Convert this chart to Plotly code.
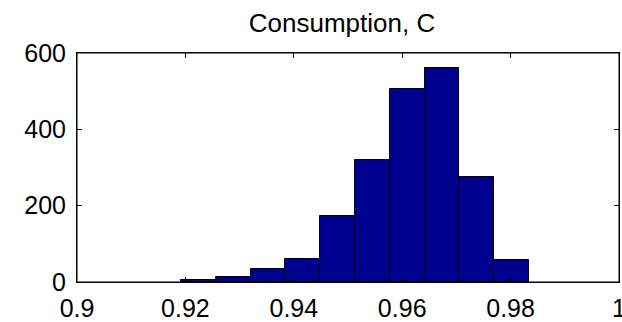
import plotly.graph_objects as go

bin_centers = [0.92241, 0.92883, 0.93525, 0.94167, 0.94809, 0.95451, 0.96093, 0.96735, 0.97377, 0.98019]
counts = [4, 13, 33, 61, 174, 320, 507, 560, 276, 57]
bin_width = 0.00642
x_ticks = [0.9, 0.92, 0.94, 0.96, 0.98, 1.0]
x_tick_labels = ["0.9", "0.92", "0.94", "0.96", "0.98", "1"]
y_ticks = [0, 200, 400, 600]
y_tick_labels = ["0", "200", "400", "600"]
title_text = "Consumption, C"

fig = go.Figure(go.Bar(
    x=bin_centers, y=counts, width=[bin_width] * len(counts),
    marker=dict(color="#00008F", line=dict(color="black", width=1)),
))

fam = "Liberation Sans, Arial, sans-serif"
font = dict(family=fam, size=25, color="black")
W, H = 622, 322
fig.update_layout(
    width=W, height=H,
    margin=dict(l=77, r=3, t=53, b=40),
    paper_bgcolor="white", plot_bgcolor="white",
    showlegend=False,
    title=dict(text=title_text, x=342 / W, xanchor="center",
               xref="container", yref="container",
               y=1 - 23 / H, yanchor="middle",
               font=dict(family=fam, size=26, color="black")),
    font=font,
    bargap=0,
    shapes=[dict(type="rect", xref="paper", yref="paper", x0=0, x1=1, y0=0, y1=1,
                 line=dict(color="black", width=1), fillcolor="rgba(0,0,0,0)",
                 layer="above")],
)
fig.update_xaxes(range=[0.9, 1.000001], tickvals=x_ticks, ticktext=x_tick_labels,
                 ticks="inside", ticklen=5, tickcolor="black", showline=True,
                 linecolor="black", linewidth=1, mirror="ticks", showgrid=False,
                 zeroline=False, tickfont=font, ticklabelstandoff=4, automargin=False,
                 ticklabeloverflow="allow")
fig.update_yaxes(range=[0, 600], tickvals=y_ticks, ticktext=y_tick_labels,
                 ticks="inside", ticklen=5, tickcolor="black", showline=True,
                 linecolor="black", linewidth=1, mirror="ticks", showgrid=False,
                 zeroline=False, tickfont=font, ticklabelstandoff=5, automargin=False)

fig.write_html(
    "out.html",
    config={"displayModeBar": False},
    post_script="document.body.style.margin='0';document.body.style.overflow='hidden';",
)
